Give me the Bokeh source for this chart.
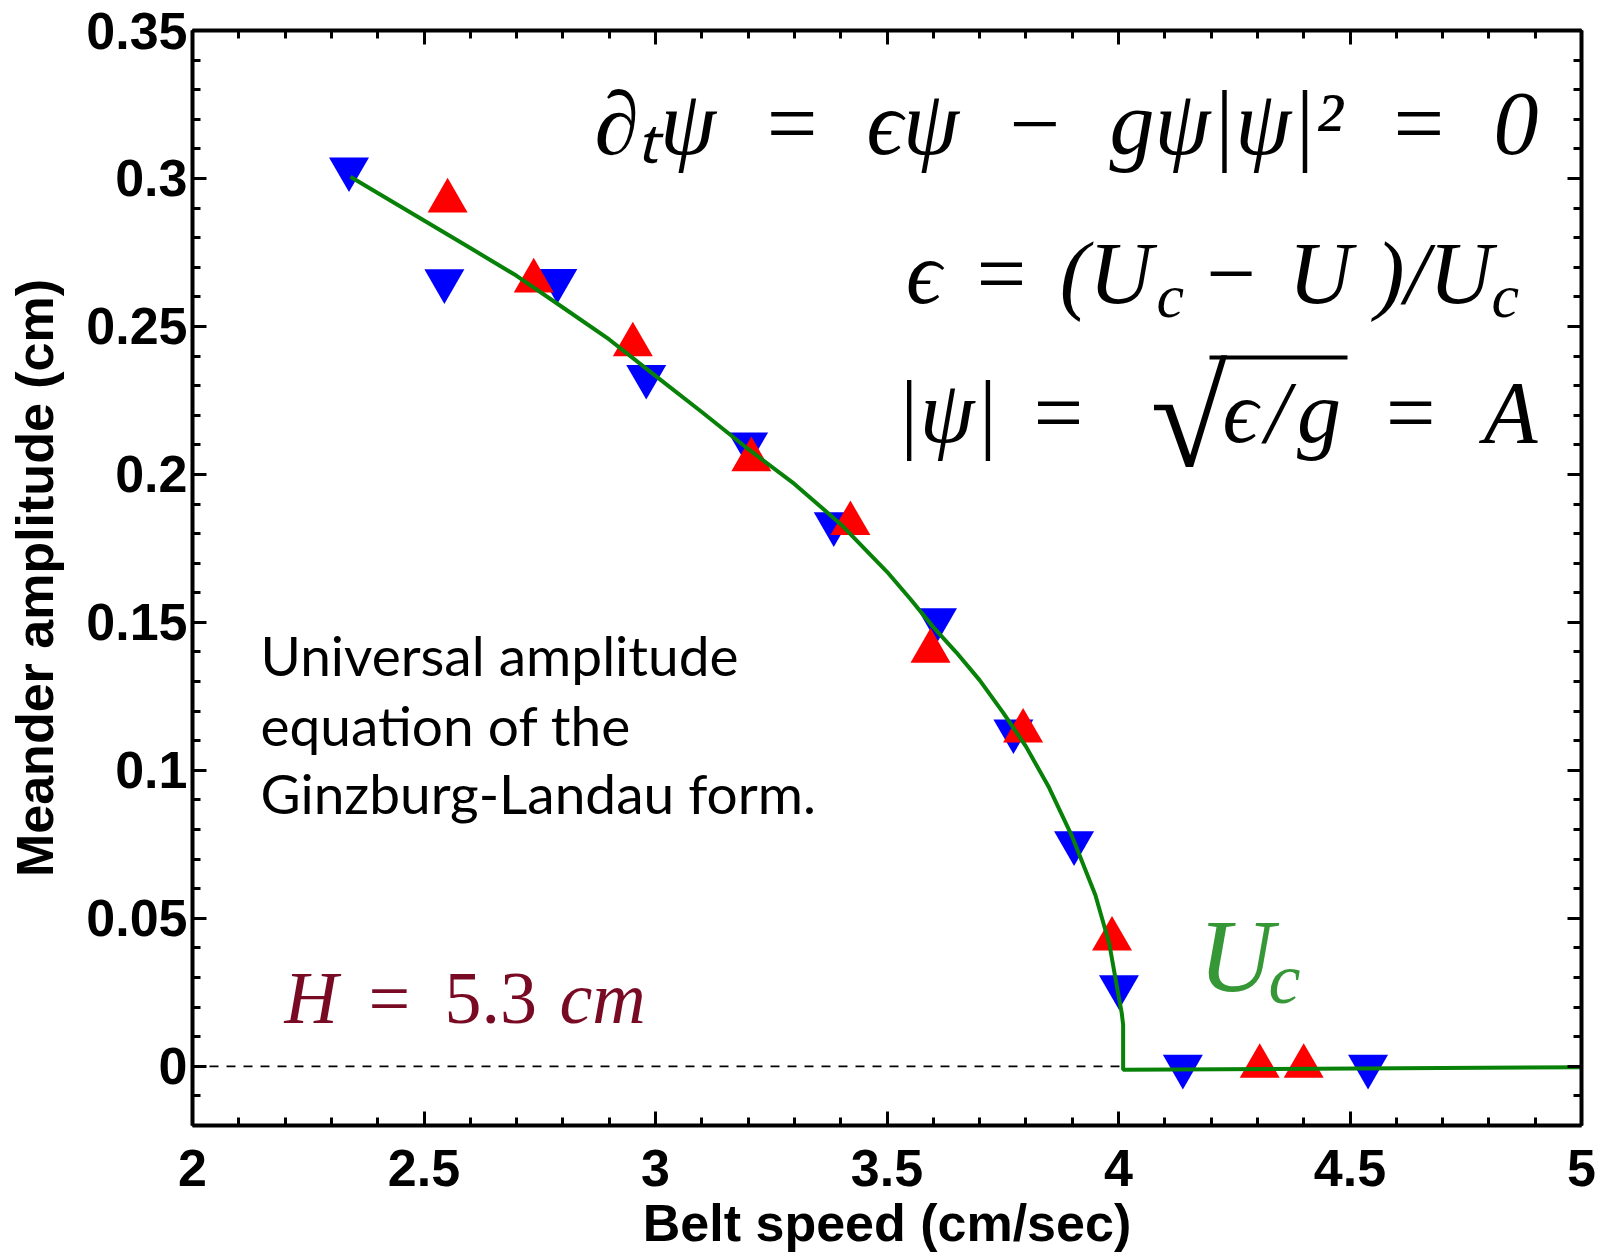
import numpy as np
from bokeh.plotting import figure
from bokeh.models import Range1d, LinearAxis, FixedTicker, Label, BoxAnnotation
from bokeh.embed import file_html
from bokeh.resources import INLINE

# ---------------- data ----------------
up_speed = [2.551, 2.737, 2.951, 3.207, 3.421, 3.594, 3.794, 3.986, 4.305, 4.400]
up_amp = [0.2924, 0.2654, 0.2438, 0.2050, 0.1834, 0.1403, 0.1133, 0.0430, 0.0000, 0.0000]

down_speed = [2.338, 2.544, 2.788, 2.980, 3.200, 3.385, 3.608, 3.773, 3.904, 4.001, 4.139, 4.539]
down_amp = [0.3032, 0.2654, 0.2655, 0.2331, 0.2103, 0.1833, 0.1509, 0.1133, 0.0755, 0.0269, 0.0000, 0.0000]

fit_speed = [2.341, 2.4, 2.5, 2.6, 2.7, 2.8, 2.9, 3.0, 3.1, 3.2, 3.3, 3.4, 3.5, 3.55, 3.6,
             3.65, 3.7, 3.75, 3.8, 3.85, 3.9, 3.95, 3.98, 4.0, 4.007, 4.01, 4.01, 5.0]
fit_amp = [0.3006, 0.2951, 0.2858, 0.2765, 0.2671, 0.2564, 0.2456, 0.2333, 0.2211, 0.2086,
           0.1968, 0.1832, 0.1671, 0.1580, 0.1484, 0.1398, 0.1305, 0.1197, 0.1081, 0.0942,
           0.0776, 0.0579, 0.0415, 0.0240, 0.0180, 0.0140, -0.0012, -0.0003]

zero_speed = [2.0, 4.01]
zero_amp = [0.0, 0.0]

x_ticks = [2, 2.5, 3, 3.5, 4, 4.5, 5]
x_tick_labels = ["2", "2.5", "3", "3.5", "4", "4.5", "5"]
y_ticks = [0, 0.05, 0.1, 0.15, 0.2, 0.25, 0.3, 0.35]
y_tick_labels = ["0", "0.05", "0.1", "0.15", "0.2", "0.25", "0.3", "0.35"]

x_minor = list(np.round(np.arange(2.0, 5.0001, 0.1), 3))
y_minor = list(np.round(np.arange(-0.02, 0.3501, 0.01), 3))

x_title = "Belt speed (cm/sec)"
y_title = "Meander amplitude (cm)"

# ---------------- figure ----------------
p = figure(width=1602, height=1254, x_range=Range1d(2, 5), y_range=Range1d(-0.02, 0.35),
           output_backend="svg", toolbar_location=None,
           x_axis_type=None, y_axis_type=None,
           min_border_left=192, min_border_right=21, min_border_top=30, min_border_bottom=129)
p.outline_line_color = None
p.xgrid.visible = False
p.ygrid.visible = False
p.background_fill_color = "white"
p.border_fill_color = "white"

xt = FixedTicker(ticks=x_ticks, minor_ticks=x_minor)
yt = FixedTicker(ticks=y_ticks, minor_ticks=y_minor)


def style_axis(ax, labels):
    ax.axis_line_width = 4
    ax.axis_line_color = "black"
    ax.major_tick_line_width = 3
    ax.minor_tick_line_width = 3
    ax.major_tick_line_color = "black"
    ax.minor_tick_line_color = "black"
    ax.major_tick_in = 14
    ax.major_tick_out = 0
    ax.minor_tick_in = 8
    ax.minor_tick_out = 0
    ax.major_label_text_font = "Liberation Sans"
    ax.major_label_text_font_style = "bold"
    ax.major_label_text_color = "black"
    ax.axis_label_text_font = "Liberation Sans"
    ax.axis_label_text_font_style = "bold"
    ax.axis_label_text_font_size = "52px"
    ax.axis_label_text_color = "black"
    if labels:
        ax.major_label_text_font_size = "52px"
    else:
        ax.major_label_text_font_size = "0px"
        ax.major_label_text_color = None
        ax.major_label_standoff = 0


xb = LinearAxis(ticker=xt, major_label_overrides=dict(zip(x_ticks, x_tick_labels)),
                axis_label=x_title)
style_axis(xb, True)
xb.major_label_standoff = 24
xb.axis_label_standoff = 5
yl = LinearAxis(ticker=yt, major_label_overrides=dict(zip(y_ticks, y_tick_labels)),
                axis_label=y_title)
style_axis(yl, True)
yl.major_label_standoff = 5
yl.axis_label_standoff = 19
xa = LinearAxis(ticker=xt)
style_axis(xa, False)
yr = LinearAxis(ticker=yt)
style_axis(yr, False)
p.add_layout(xb, "below")
p.add_layout(yl, "left")
p.add_layout(xa, "above")
p.add_layout(yr, "right")

# ---------------- glyphs ----------------
p.line(zero_speed, zero_amp, line_color="black", line_width=1.8, line_dash="9 8")
p.scatter(down_speed, down_amp, marker="inverted_triangle", size=40,
          fill_color="#0000ff", line_color=None)
p.scatter(up_speed, up_amp, marker="triangle", size=40,
          fill_color="#ff0000", line_color=None)
p.line(fit_speed, fit_amp, line_color="#078107", line_width=4)


# ---------------- text (positions given in picture pixels) ----------------
def dx(px):
    return 2.0 + (px - 192.0) / 463.0


def dy(py):
    return (1066.0 - py) / 2960.0


SERIF = "Liberation Serif"
MID = {"Liberation Serif": 0.3375, "Lato": 0.387, "Liberation Sans": 0.3465}


def tlabel(x, base, text, size, color="black", style="italic", font=SERIF, align="left"):
    y = base - MID[font] * size
    p.add_layout(Label(x=dx(x), y=dy(y), text=text, text_font=font,
                       text_font_size=f"{size}px", text_font_style=style,
                       text_color=color, text_align=align, text_baseline="middle"))


E = "\u2002"   # en space
T = "\u2004"   # three-per-em space
H = "\u200a"   # hair space
# equation 1
tlabel(1538, 153, f"\u2202\u209c\u03c8{E}={E}\u03f5\u03c8{E}\u2212{E}g\u03c8|\u03c8|\u00b2{E}={E}0", 90, align="right")
# equation 2
tlabel(1152, 303, f"\u03f5{T}={T}(U", 88, align="right")
tlabel(1156, 316, "c", 62)
tlabel(1206, 303, "\u2212", 88, style="normal")
tlabel(1288, 303, "U", 88)
tlabel(1492, 303, ")/U", 88, align="right")
tlabel(1491, 316, "c", 62)
# equation 3
tlabel(895, 442, f"|\u03c8|{T}=", 88)
tlabel(1150, 465, "\u221a", 140, style="normal")
p.add_layout(BoxAnnotation(left=dx(1209), right=dx(1347), top=dy(355), bottom=dy(359),
                           fill_color="black", fill_alpha=1.0, line_color=None))
tlabel(1222, 442, f"\u03f5{H}/{H}g", 88)
tlabel(1537, 442, f"={E}A", 88, align="right")

# H = 5.3 cm
MAROON = "#780a23"
tlabel(284, 1023, "H", 74, color=MAROON)
tlabel(368, 1023, "=", 74, color=MAROON, style="normal")
tlabel(444, 1023, "5.3", 74, color=MAROON, style="normal")
tlabel(559, 1023, "cm", 74, color=MAROON)

# U_c
GREEN2 = "#359735"
tlabel(1198, 990, "U", 104, color=GREEN2)
tlabel(1268, 1003, "c", 72, color=GREEN2)

# descriptive text
tlabel(260, 676, "Universal amplitude", 55, font="Lato", style="normal")
tlabel(260, 746, "equation of the", 55, font="Lato", style="normal")
tlabel(260, 814, "Ginzburg-Landau form.", 55, font="Lato", style="normal")

open("out.html", "w").write(file_html(p, INLINE))
